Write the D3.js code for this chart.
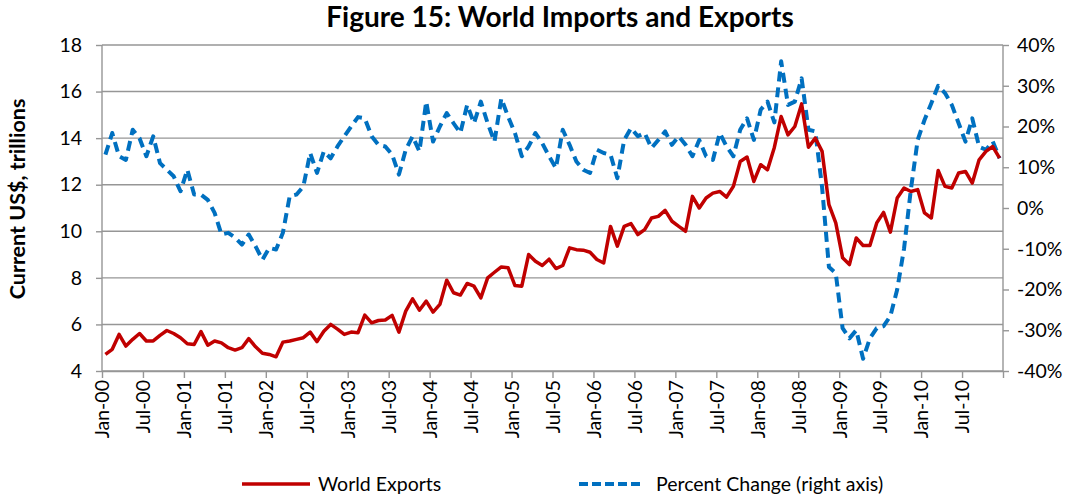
<!DOCTYPE html>
<html>
<head>
<meta charset="utf-8">
<script src="https://cdn.jsdelivr.net/npm/d3@7/dist/d3.min.js"></script>
<style>
  html, body { margin: 0; padding: 0; background: #fff; }
  svg { display: block; font-family: Lato, "Open Sans", sans-serif; }
</style>
</head>
<body>
<svg id="chart" width="1076" height="498"></svg>
<script>
// monthly, Jan-00 .. Dec-10
const worldExports = [
  4.71, 4.93, 5.57, 5.07, 5.36, 5.61, 5.29, 5.29, 5.53, 5.74, 5.61, 5.43,
  5.17, 5.14, 5.69, 5.11, 5.29, 5.21, 5.0, 4.9, 5.0, 5.39, 5.04, 4.76,
  4.71, 4.61, 5.24, 5.29, 5.36, 5.43, 5.67, 5.26, 5.71, 6.0, 5.8, 5.57,
  5.67, 5.64, 6.4, 6.07, 6.17, 6.19, 6.39, 5.67, 6.57, 7.1, 6.61, 7.0,
  6.53, 6.86, 7.9, 7.36, 7.26, 7.76, 7.64, 7.14, 8.0, 8.24, 8.47, 8.43,
  7.67, 7.64, 9.0, 8.71, 8.53, 8.8, 8.4, 8.53, 9.29, 9.21, 9.19, 9.1,
  8.79, 8.64, 10.21, 9.36, 10.21, 10.33, 9.86, 10.07, 10.57, 10.64, 10.9, 10.43,
  10.21, 10.0, 11.5, 11.0, 11.43, 11.64, 11.71, 11.47, 11.93, 13.0, 13.19, 12.14,
  12.86, 12.64, 13.6, 14.93, 14.14, 14.5, 15.47, 13.61, 14.0, 13.43, 11.14, 10.36,
  8.86, 8.57, 9.71, 9.39, 9.39, 10.36, 10.81, 9.96, 11.43, 11.86, 11.71, 11.79,
  10.79, 10.57, 12.61, 11.93, 11.86, 12.5, 12.57, 12.07, 13.07, 13.43, 13.64, 13.14
];

const percentChange = [
  13.1, 18.4, 12.7, 11.8, 19.2, 17.1, 12.7, 17.6, 11.0, 9.4, 7.8, 4.1,
  9.4, 3.3, 3.3, 2.0, -1.2, -6.5, -6.1, -7.3, -9.0, -6.5, -9.4, -12.7,
  -9.8, -10.2, -6.1, 2.9, 3.3, 5.3, 13.5, 8.6, 13.9, 12.2, 15.1, 17.6,
  20.0, 22.3, 22.0, 17.6, 15.5, 15.1, 13.1, 8.2, 14.3, 17.6, 13.9, 26.1,
  16.3, 20.0, 23.3, 20.8, 18.4, 25.3, 20.8, 26.1, 20.8, 16.3, 26.9, 22.4,
  18.4, 12.7, 15.1, 18.4, 15.9, 12.7, 9.8, 19.2, 15.5, 11.4, 9.4, 8.6,
  14.3, 13.5, 13.1, 7.3, 16.7, 19.6, 17.6, 18.4, 14.7, 16.7, 18.8, 15.5,
  17.6, 15.5, 12.7, 16.7, 12.7, 11.8, 18.4, 15.1, 12.7, 19.2, 22.0, 16.7,
  24.1, 26.1, 21.0, 36.0, 25.3, 26.1, 31.8, 19.2, 18.8, 5.0, -14.5, -16.0,
  -29.5, -32.0, -30.0, -37.0, -32.0, -29.5, -29.0, -26.5, -20.0, -10.0, 4.5, 16.7,
  21.6, 25.7, 30.0, 28.2, 25.3, 20.8, 16.3, 22.0, 15.0, 14.3, 16.3, 12.2
];

const tickLabels = [
  'Jan-00', 'Jul-00', 'Jan-01', 'Jul-01', 'Jan-02', 'Jul-02', 'Jan-03', 'Jul-03',
  'Jan-04', 'Jul-04', 'Jan-05', 'Jul-05', 'Jan-06', 'Jul-06', 'Jan-07', 'Jul-07',
  'Jan-08', 'Jul-08', 'Jan-09', 'Jul-09', 'Jan-10', 'Jul-10'
];
const leftTicks = [4, 6, 8, 10, 12, 14, 16, 18];
const rightTicks = [-40, -30, -20, -10, 0, 10, 20, 30, 40];

const RED = '#C00000';
const BLUE = '#0070C0';
const GRID = '#969696';
const LABEL_SIZE = '19.5px';

const plot = { left: 102, right: 1003, top: 45, bottom: 371 };
const svg = d3.select('#chart');

// month axis: boundaries at integers, points sit mid-month
const x = d3.scaleLinear().domain([0, worldExports.length]).range([plot.left, plot.right]);
const yLeft = d3.scaleLinear().domain([4, 18]).range([plot.bottom, plot.top]);
const yRight = d3.scaleLinear().domain([-40, 40]).range([plot.bottom, plot.top]);

// gridlines
svg.append('g')
  .selectAll('line')
  .data(leftTicks)
  .join('line')
  .attr('x1', plot.left)
  .attr('x2', plot.right)
  .attr('y1', (d) => yLeft(d))
  .attr('y2', (d) => yLeft(d))
  .attr('stroke', GRID)
  .attr('stroke-width', 1.4);

// left axis
const leftAxis = svg.append('g')
  .attr('transform', `translate(${plot.left},0)`)
  .call(d3.axisLeft(yLeft).tickValues(leftTicks).tickSize(6).tickPadding(14).tickFormat(d3.format('d')));

// right axis
const rightAxis = svg.append('g')
  .attr('transform', `translate(${plot.right},0)`)
  .call(d3.axisRight(yRight).tickValues(rightTicks).tickSize(6).tickPadding(8)
    .tickFormat((d) => d + '%'));

// bottom axis
const monthTicks = d3.range(0, worldExports.length + 1, 6);
const bottomAxis = svg.append('g')
  .attr('transform', `translate(0,${plot.bottom})`)
  .call(d3.axisBottom(x).tickValues(monthTicks).tickSize(7).tickSizeOuter(0)
    .tickFormat((d) => tickLabels[d / 6] || ''));

bottomAxis.selectAll('text')
  .attr('transform', 'rotate(-90)')
  .attr('text-anchor', 'end')
  .attr('dx', '-9px')
  .attr('dy', '0.35em')
  .attr('x', 0)
  .attr('y', 0);

[leftAxis, rightAxis, bottomAxis].forEach((g) => {
  g.selectAll('.domain').attr('stroke', GRID).attr('stroke-width', 1.4);
  g.selectAll('.tick line').attr('stroke', GRID).attr('stroke-width', 1.4);
  g.selectAll('text').attr('fill', '#000').style('font-size', LABEL_SIZE).style('font-family', 'Lato, sans-serif');
});
leftAxis.selectAll('.domain').attr('d', `M0,${plot.bottom}V${plot.top}`);
rightAxis.selectAll('.domain').attr('d', `M0,${plot.bottom}V${plot.top}`);

// lines
const exportLine = d3.line()
  .x((d, i) => x(i + 0.5))
  .y((d) => yLeft(d));
const pctLine = d3.line()
  .x((d, i) => x(i + 0.5))
  .y((d) => yRight(d));

svg.append('path')
  .datum(percentChange)
  .attr('d', pctLine)
  .attr('fill', 'none')
  .attr('stroke', BLUE)
  .attr('stroke-width', 4)
  .attr('stroke-dasharray', '10 6')
  .attr('stroke-linejoin', 'round');

svg.append('path')
  .datum(worldExports)
  .attr('d', exportLine)
  .attr('fill', 'none')
  .attr('stroke', RED)
  .attr('stroke-width', 3.5)
  .attr('stroke-linejoin', 'round');

// title
svg.append('text')
  .attr('x', 560)
  .attr('y', 27)
  .attr('text-anchor', 'middle')
  .style('font-size', '28px')
  .style('font-weight', 'bold')
  .text('Figure 15: World Imports and Exports');

// y axis title
svg.append('text')
  .attr('transform', 'translate(25,199) rotate(-90)')
  .attr('text-anchor', 'middle')
  .style('font-size', '21.5px')
  .style('font-weight', 'bold')
  .text('Current US$, trillions');

// legend
const legend = svg.append('g');
legend.append('line')
  .attr('x1', 242).attr('x2', 310).attr('y1', 484).attr('y2', 484)
  .attr('stroke', RED).attr('stroke-width', 3.5);
legend.append('text')
  .attr('x', 318).attr('y', 491)
  .style('font-size', LABEL_SIZE)
  .text('World Exports');
legend.append('line')
  .attr('x1', 579).attr('x2', 643).attr('y1', 484).attr('y2', 484)
  .attr('stroke', BLUE).attr('stroke-width', 4).attr('stroke-dasharray', '9 4');
legend.append('text')
  .attr('x', 656).attr('y', 491)
  .style('font-size', LABEL_SIZE)
  .text('Percent Change (right axis)');
</script>
</body>
</html>
